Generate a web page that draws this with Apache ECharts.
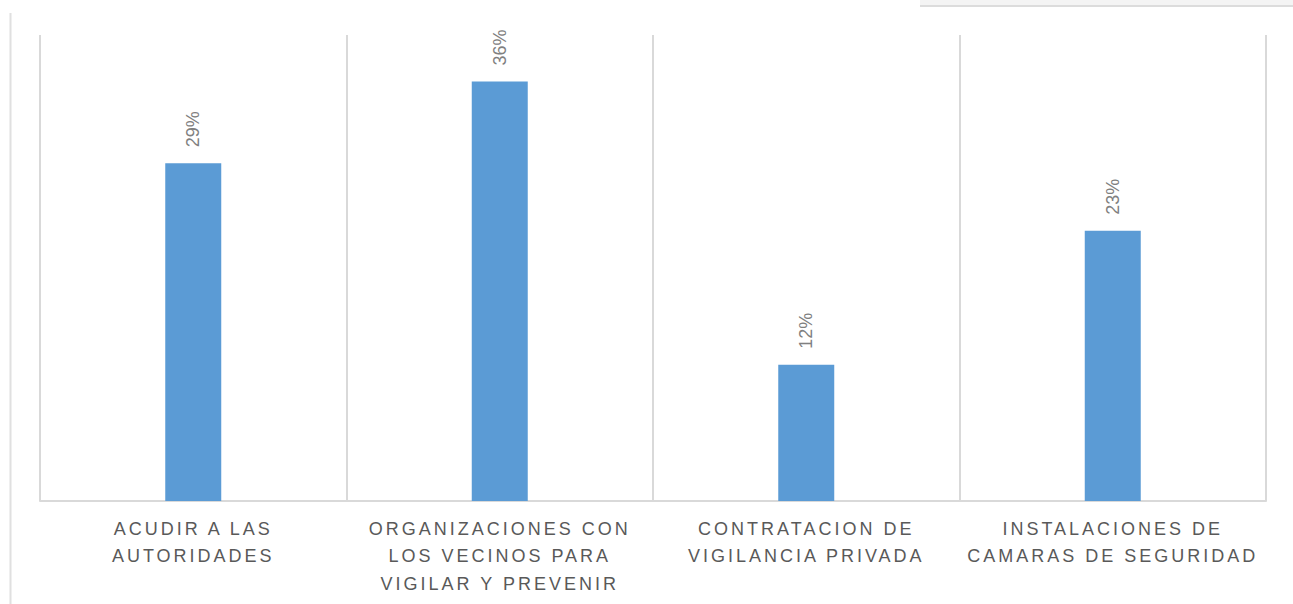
<!DOCTYPE html>
<html>
<head>
<meta charset="utf-8">
<title>Chart</title>
<script src="https://cdn.jsdelivr.net/npm/echarts@6/dist/echarts.min.js"></script>
<style>
  html, body { margin: 0; padding: 0; background: #fff; }
  #main { width: 1293px; height: 604px; }
  /* spaced-out category labels like the original */
  #main text[fill="#595959"] { letter-spacing: 3px; }
</style>
</head>
<body>
<div id="main"></div>
<script>
// categories (line breaks as in the original)
const categories = [
  'ACUDIR A LAS\nAUTORIDADES',
  'ORGANIZACIONES CON\nLOS VECINOS PARA\nVIGILAR Y PREVENIR',
  'CONTRATACION DE\nVIGILANCIA PRIVADA',
  'INSTALACIONES DE\nCAMARAS DE SEGURIDAD'
]
// percentages
const values = [29, 36, 11.7, 23.2]

let chart = echarts.init(document.getElementById('main'), null, { renderer: 'svg' })

chart.setOption({
  animation: false,
  grid: {
    left: 40,
    right: 27,
    top: 35,
    bottom: 103
  },
  xAxis: {
    type: 'category',
    data: categories,
    axisLine: { lineStyle: { color: '#d9d9d9', width: 2 } },
    axisTick: { show: false },
    splitLine: { show: true, lineStyle: { color: '#d9d9d9', width: 2 } },
    axisLabel: {
      interval: 0,
      margin: 14,
      color: '#595959',
      fontFamily: 'Liberation Sans',
      fontSize: 18,
      lineHeight: 27.5
    }
  },
  yAxis: {
    type: 'value',
    min: 0,
    max: 40,
    show: false,
    splitLine: { show: false }
  },
  graphic: [
    { type: 'line', shape: { x1: 10.5, y1: 13, x2: 10.5, y2: 604 }, style: { stroke: '#e0e0e0', lineWidth: 2 } },
    { type: 'rect', shape: { x: 920, y: 0, width: 373, height: 5 }, style: { fill: '#f4f4f4' } },
    { type: 'line', shape: { x1: 920, y1: 6, x2: 1293, y2: 6 }, style: { stroke: '#dcdcdc', lineWidth: 2 } }
  ],
  series: [{
    type: 'bar',
    data: values,
    barWidth: 56,
    itemStyle: { color: '#5b9bd5' },
    label: {
      show: true,
      position: 'top',
      distance: 16,
      rotate: 90,
      align: 'left',
      verticalAlign: 'middle',
      color: '#808080',
      fontFamily: 'Liberation Sans',
      fontSize: 18,
      formatter: p => Math.round(p.value) + '%'
    }
  }]
})
</script>
</body>
</html>
